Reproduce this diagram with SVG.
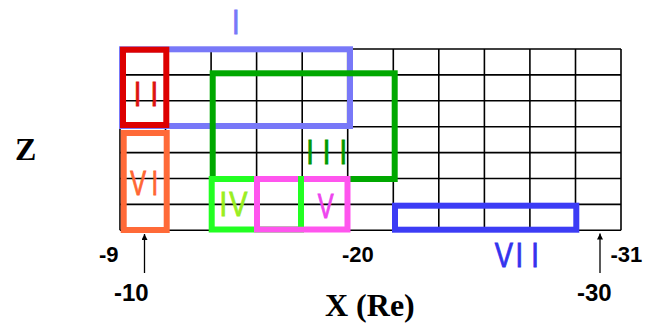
<svg xmlns="http://www.w3.org/2000/svg" width="654" height="324" viewBox="0 0 654 324">
  <style>
    .grid line { stroke: #000; stroke-width: 1.6; }
    .box { fill: none; stroke-width: 6; }
    .lbl { font-family: "Liberation Sans", Arial, sans-serif; font-size: 35px; text-anchor: middle; stroke-width: 0.9; }
    .tick { font-family: "Liberation Sans", Arial, sans-serif; font-weight: bold; fill: #000; }
    .axis { font-family: "Liberation Serif", "Times New Roman", serif; font-weight: bold; font-size: 32px; fill: #000; }
    .conn line { stroke: #000; stroke-width: 1.3; }
  </style>
  <defs>
    <marker id="tip" viewBox="0 0 10 10" refX="10" refY="5" markerWidth="8" markerHeight="6" markerUnits="userSpaceOnUse" orient="auto">
      <path d="M0,0 L10,5 L0,10 z" fill="#000"/>
    </marker>
  </defs>
  <rect width="654" height="324" fill="#fff"/>

  <!-- 11 x 7 cell grid -->
  <g id="grid" class="grid">
    <line x1="120" y1="49" x2="621" y2="49"/>
    <line x1="120" y1="74.9" x2="621" y2="74.9"/>
    <line x1="120" y1="100.8" x2="621" y2="100.8"/>
    <line x1="120" y1="126.7" x2="621" y2="126.7"/>
    <line x1="120" y1="152.6" x2="621" y2="152.6"/>
    <line x1="120" y1="178.5" x2="621" y2="178.5"/>
    <line x1="120" y1="204.4" x2="621" y2="204.4"/>
    <line x1="120" y1="230.3" x2="621" y2="230.3"/>
    <line x1="120" y1="49" x2="120" y2="230.3"/>
    <line x1="165.5" y1="49" x2="165.5" y2="230.3"/>
    <line x1="211.1" y1="49" x2="211.1" y2="230.3"/>
    <line x1="256.6" y1="49" x2="256.6" y2="230.3"/>
    <line x1="302.2" y1="49" x2="302.2" y2="230.3"/>
    <line x1="347.7" y1="49" x2="347.7" y2="230.3"/>
    <line x1="393.3" y1="49" x2="393.3" y2="230.3"/>
    <line x1="438.8" y1="49" x2="438.8" y2="230.3"/>
    <line x1="484.4" y1="49" x2="484.4" y2="230.3"/>
    <line x1="529.9" y1="49" x2="529.9" y2="230.3"/>
    <line x1="575.5" y1="49" x2="575.5" y2="230.3"/>
    <line x1="621" y1="49" x2="621" y2="230.3"/>
  </g>

  <g id="region-I">
    <rect class="box" x="122" y="49.3" width="228" height="76.7" stroke="#7878F8"/>
    <text class="lbl" fill="#7878F8" stroke="#7878F8" transform="scale(0.78 1)" x="302.2" y="34.3">I</text>
  </g>
  <g id="region-II">
    <rect class="box" x="123" y="49.7" width="43.3" height="75.3" stroke="#DD0000"/>
    <text class="lbl" fill="#DD1111" stroke="#DD1111" transform="scale(0.78 1)" x="176.5 197.8" y="106">II</text>
  </g>
  <g id="region-III">
    <rect class="box" x="212.7" y="73.3" width="182" height="105.7" stroke="#00A800"/>
    <text class="lbl" fill="#009900" stroke="#009900" transform="scale(0.78 1)" x="397.4 418.8 440.1" y="164.3">III</text>
  </g>
  <g id="region-VI">
    <rect class="box" x="123.7" y="133" width="43" height="97" stroke="#FF6A38"/>
    <text class="lbl" fill="#FF6633" stroke="#FF6633" transform="scale(0.68 1)" x="203.2 227.5" y="195">VI</text>
  </g>
  <g id="region-IV">
    <rect class="box" x="211.7" y="179" width="89.3" height="50.5" stroke="#22FF22"/>
    <text class="lbl" fill="#99EE22" stroke="#99EE22" transform="scale(0.78 1)" x="286.3 305.5" y="216.5">IV</text>
  </g>
  <g id="region-V">
    <path class="box" d="M257,179 H347.5 V229.5 H257 Z" stroke="#FF55EE"/>
    <line x1="301" y1="176" x2="301" y2="226.5" stroke="#22FF22" stroke-width="6"/>
    <text class="lbl" fill="#EE44EE" stroke="#EE44EE" transform="scale(0.68 1)" x="479.1" y="218">V</text>
  </g>
  <g id="region-VII">
    <rect class="box" x="395" y="205.7" width="181.3" height="24" stroke="#3C3CF5"/>
    <text class="lbl" fill="#3333EE" stroke="#3333EE" transform="scale(0.78 1)" x="645.9 665.6 685.9" y="266.7">VII</text>
  </g>

  <!-- axis ticks and titles -->
  <g id="ticks">
    <text class="tick" font-size="22" x="99" y="262">-9</text>
    <text class="tick" font-size="24" x="114" y="301">-10</text>
    <text class="tick" font-size="22" x="342" y="262.3">-20</text>
    <text class="tick" font-size="24" x="577" y="301">-30</text>
    <text class="tick" font-size="22" x="610.5" y="262">-31</text>
  </g>
  <g id="axis-x"><text class="axis" x="325" y="316">X (Re)</text></g>
  <g id="axis-z"><text class="axis" x="15" y="159.5">Z</text></g>

  <g id="connectors" class="conn">
    <line x1="144.5" y1="273" x2="144.5" y2="234" marker-end="url(#tip)"/>
    <line x1="600" y1="273" x2="600" y2="233.5" marker-end="url(#tip)"/>
  </g>
</svg>
